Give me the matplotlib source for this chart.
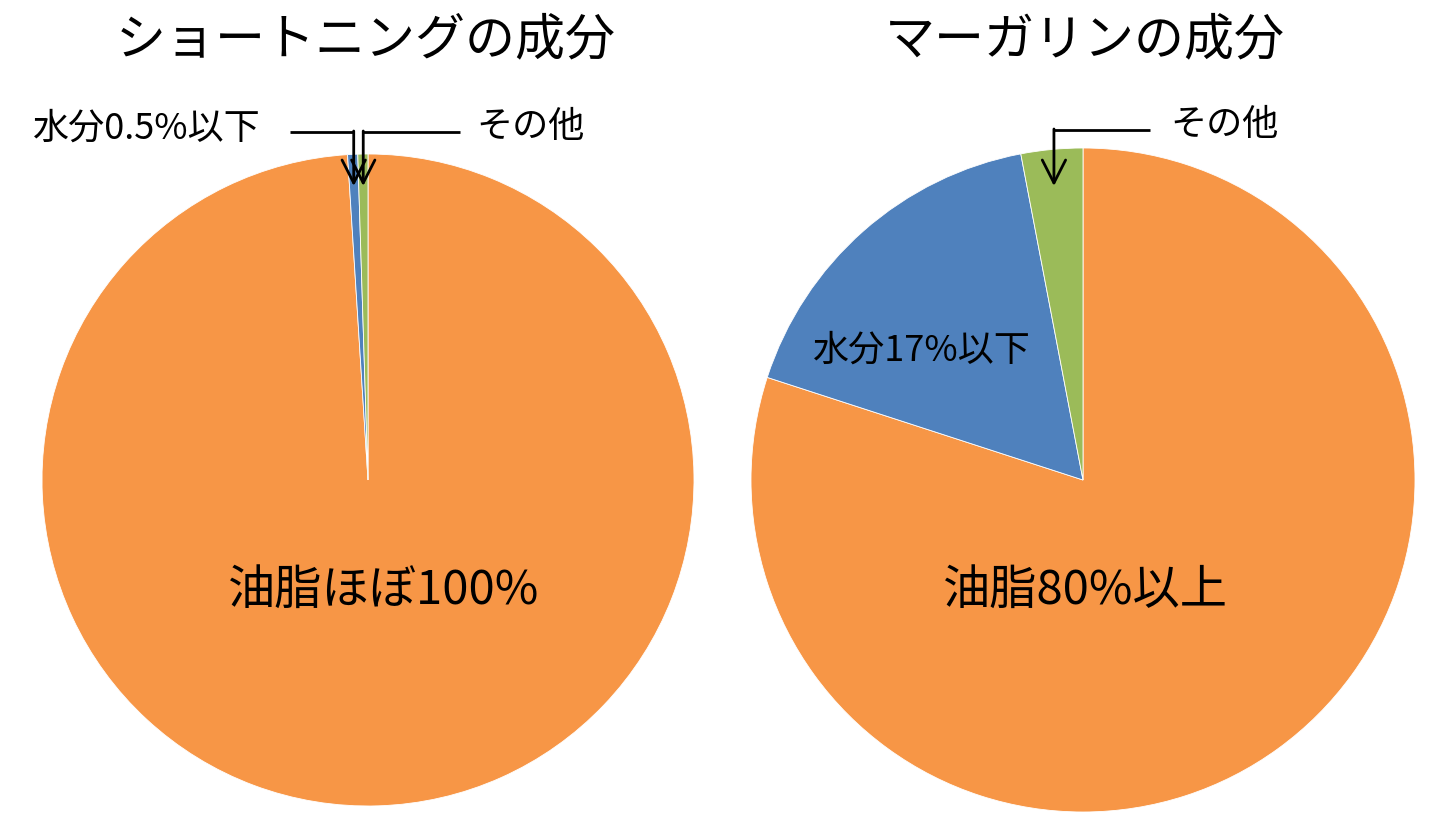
import matplotlib.pyplot as plt
import numpy as np

plt.rcParams['font.family'] = ['Noto Sans CJK JP', 'DejaVu Sans']

# data
titles = ['ショートニングの成分', 'マーガリンの成分']
shortening = [99.0, 0.5, 0.5]   # 油脂, 水分, その他
margarine = [80.0, 17.0, 3.0]
colors = ['#F79646', '#4F81BD', '#9BBB59']

W, H = 1438, 835
fig = plt.figure(figsize=(W / 100, H / 100), dpi=100)
ax = fig.add_axes([0, 0, 1, 1])


def py(y):
    # pixel row -> data y
    return H - y


def draw_pie(values, cx, cy, r):
    ax.pie(values, colors=colors, startangle=90, counterclock=False,
           center=(cx, py(cy)), radius=r,
           wedgeprops=dict(edgecolor='white', linewidth=0.6))


def slice_mid_x(values, i, cx, r, frac=0.93):
    # x position of the middle of slice i near the rim
    total = sum(values)
    start = sum(values[:i]) / total * 360
    mid = start + values[i] / total * 360 / 2
    return cx + frac * r * np.sin(np.radians(mid))


def callout(x_line_start, x_tip, y_line, y_tip):
    ax.plot([x_line_start, x_tip], [py(y_line), py(y_line)], color='black', lw=2,
            solid_capstyle='butt')
    ax.annotate('', xy=(x_tip, py(y_tip)), xytext=(x_tip, py(y_line) + 1),
                arrowprops=dict(arrowstyle='->,head_length=0.55,head_width=0.28',
                                color='black', lw=2,
                                mutation_scale=30, shrinkA=0, shrinkB=0))


# left pie
lcx, lcy, lr = 368, 480, 326
draw_pie(shortening, lcx, lcy, lr)
# right pie
rcx, rcy, rr = 1083, 480, 332
draw_pie(margarine, rcx, rcy, rr)

ax.set_xlim(0, W)
ax.set_ylim(0, H)
ax.set_aspect('equal')
ax.axis('off')

# titles
ax.text(366, py(40), titles[0], fontsize=36, ha='center', va='center')
ax.text(1085, py(40), titles[1], fontsize=36, ha='center', va='center')

# left labels
ax.text(147, py(129), '水分0.5%以下', fontsize=26, ha='center', va='center')
ax.text(531, py(127), 'その他', fontsize=26, ha='center', va='center')
ax.text(384, py(591), '油脂ほぼ100%', fontsize=34, ha='center', va='center')
callout(290, slice_mid_x(shortening, 1, lcx, lr), 132, 186)
callout(460, slice_mid_x(shortening, 2, lcx, lr), 132, 186)

# right labels
ax.text(1225, py(125), 'その他', fontsize=26, ha='center', va='center')
ax.text(922, py(351), '水分17%以下', fontsize=26, ha='center', va='center')
ax.text(1085, py(591), '油脂80%以上', fontsize=34, ha='center', va='center')
callout(1150, slice_mid_x(margarine, 2, rcx, rr), 130, 186)

fig.savefig('out.png', dpi=100)
